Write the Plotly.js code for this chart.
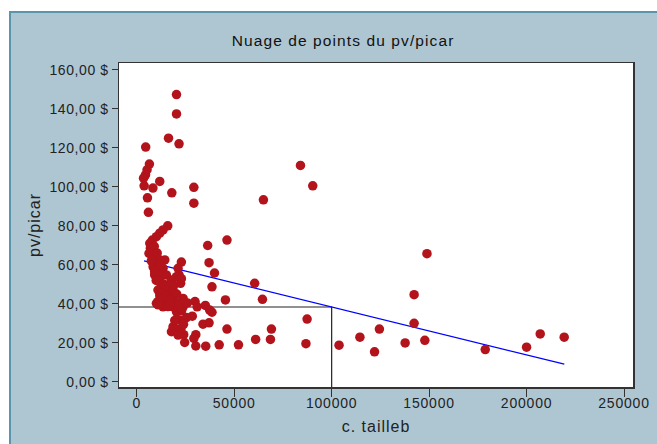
<!DOCTYPE html>
<html>
<head>
<meta charset="utf-8">
<script src="https://cdn.plot.ly/plotly-3.0.1.min.js"></script>
<style>
  html, body { margin: 0; padding: 0; background: #ffffff; width: 657px; height: 444px; overflow: hidden; }
  #chart { position: absolute; left: 9px; top: 11px; width: 646px; height: 431px;
           border-left: 2px solid #5b95ab; border-top: 2px solid #5b95ab; }
  .xtick text { letter-spacing: 0.8px; }
  .ytick text { letter-spacing: 0.6px; }
  .gtitle { letter-spacing: 1.1px; }
  .xtitle, .ytitle { letter-spacing: 1.0px; }
</style>
</head>
<body>
<div id="chart"></div>
<script>
// c. tailleb (x) and pv/picar (y) values
const tailleb = [
  20400, 20400, 16300, 21700, 4600, 6500, 5300, 4500, 3500, 3800,
  8300, 11800, 18000, 5500, 6000, 29300, 29300, 65000, 84000, 90300,
  46300, 36400, 37100, 39900, 38600, 60500, 45500, 64500, 148900, 142300,
  142300, 87400, 86800, 103800, 114500, 124500, 122000, 137700, 147800, 178800,
  200000, 207000, 219300, 69100, 68600, 61000, 52200, 42300, 46300,
  29900, 35200, 31000, 38600, 37400, 28500, 34000, 37100, 30300, 29300,
  30300, 24600, 24100, 22700, 20000, 18600, 17800, 21200, 22000, 20400,
  23800, 23800, 35400, 25500, 24000, 19500, 26000, 23000,
  15900, 13500, 11800, 10100, 8000, 6700, 7000, 6300, 8400, 9700,
  11800, 14400, 22900, 8400, 10900, 13500, 21200, 21700, 9200, 15200,
  9200, 12700, 20400, 17800, 12700, 10900, 15200, 11800, 16900, 10900,
  14400, 19500, 13500, 18600, 16000, 10100, 7500, 9000, 10500, 12000,
  7500, 10000, 12000, 14000, 16000, 18500, 13000, 15000, 17500, 12000,
  20500, 19000, 22500, 11000, 21500, 17000, 22900
];
const pvPicar = [
  147.2, 137.3, 124.9, 122.0, 120.3, 111.6, 108.7, 106.1, 104.4, 100.5,
  99.3, 102.7, 96.9, 94.3, 86.9, 99.7, 91.6, 93.3, 110.9, 100.5,
  72.7, 69.9, 61.1, 55.8, 48.7, 50.5, 42.0, 42.3, 65.7, 44.7,
  30.0, 32.2, 19.6, 18.8, 22.9, 27.1, 15.4, 20.0, 21.3, 16.6,
  17.8, 24.6, 22.9, 27.1, 21.8, 21.8, 19.0, 19.0, 27.1,
  41.2, 39.2, 38.5, 35.7, 36.8, 33.7, 29.6, 30.3, 24.2, 22.3,
  18.4, 20.2, 24.2, 27.2, 27.2, 28.2, 25.7, 24.0, 31.7, 35.9,
  38.5, 42.8, 18.3, 33.0, 29.5, 31.5, 40.5, 36.5,
  80.0, 77.9, 76.2, 74.4, 72.7, 71.0, 68.5, 65.9, 64.2, 61.6,
  62.5, 62.5, 61.4, 59.0, 57.3, 58.2, 58.2, 54.8, 54.8, 54.8,
  56.5, 54.8, 53.9, 52.2, 49.6, 47.1, 47.1, 44.5, 44.5, 41.1,
  41.1, 41.1, 38.5, 38.5, 38.6, 40.3, 66.5, 69.5, 66.0, 60.0,
  62.0, 52.0, 51.5, 50.0, 49.0, 47.5, 45.5, 43.5, 42.5, 43.0,
  45.0, 49.5, 50.5, 39.5, 40.0, 39.5, 52.9
];

// fit line end points (as drawn in the reference)
const fitX = [3750, 219350];
const fitY = [62.0, 9.1];

// reference guide at c. tailleb = 100000
const guideX = [-20000, 100000, 100000];
const guideY = [38.4, 38.4, -10];

// axis ticks
const xTickVals = [0, 50000, 100000, 150000, 200000, 250000];
const xTickText = ["0", "50000", "100000", "150000", "200000", "250000"];
const yTickVals = [0, 20, 40, 60, 80, 100, 120, 140, 160];
const yTickText = ["0,00 $", "20,00 $", "40,00 $", "60,00 $", "80,00 $", "100,00 $", "120,00 $", "140,00 $", "160,00 $"];

const FONT = "Liberation Sans, Arial, sans-serif";

const traces = [
  {
    type: "scatter", mode: "lines", x: guideX, y: guideY,
    line: { color: "#222222", width: 1.2 }, hoverinfo: "skip", showlegend: false
  },
  {
    type: "scatter", mode: "lines", x: fitX, y: fitY,
    line: { color: "#0000ff", width: 1.3 }, hoverinfo: "skip", showlegend: false
  },
  {
    type: "scatter", mode: "markers", x: tailleb, y: pvPicar,
    marker: { color: "#b3131b", size: 9.5, line: { width: 0 } },
    showlegend: false
  }
];

const layout = {
  width: 646, height: 431,
  margin: { l: 108, r: 24, t: 50, b: 57 },
  paper_bgcolor: "#aec6d2",
  plot_bgcolor: "#ffffff",
  font: { family: FONT, color: "#222222", size: 14 },
  showlegend: false,
  title: {
    text: "Nuage de points du pv/picar",
    font: { family: FONT, size: 15.5, color: "#111111" },
    xref: "container", x: 0.514, xanchor: "center",
    yref: "container", y: 0.937, yanchor: "middle"
  },
  xaxis: {
    range: [-9100, 254600],
    tickvals: xTickVals, ticktext: xTickText,
    ticks: "outside", ticklen: 8, tickwidth: 1, tickcolor: "#333333",
    ticklabelstandoff: -5,
    showline: true, mirror: true, linecolor: "#333333", linewidth: 1.5,
    showgrid: false, zeroline: false,
    tickfont: { family: FONT, size: 14, color: "#222222" },
    title: { text: "c. tailleb", font: { family: FONT, size: 16, color: "#222222" }, standoff: 10 }
  },
  yaxis: {
    range: [-2.6, 163.4],
    tickvals: yTickVals, ticktext: yTickText,
    ticks: "outside", ticklen: 6, tickwidth: 1, tickcolor: "#333333",
    showline: true, mirror: true, linecolor: "#333333", linewidth: 1.5,
    showgrid: false, zeroline: false,
    tickfont: { family: FONT, size: 14, color: "#222222" },
    title: { text: "pv/picar", font: { family: FONT, size: 16, color: "#222222" }, standoff: 5 }
  }
};

Plotly.newPlot("chart", traces, layout, { staticPlot: true, displayModeBar: false });
</script>
</body>
</html>
